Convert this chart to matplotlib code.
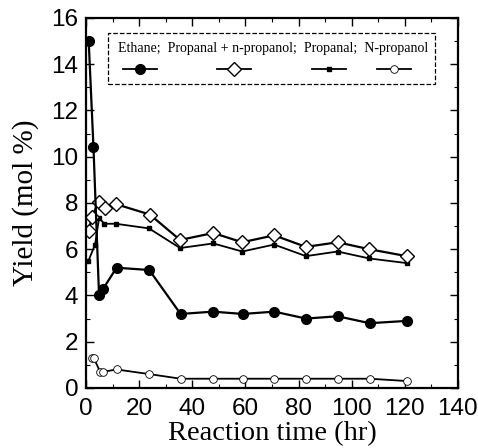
import matplotlib
matplotlib.use("Agg")
import matplotlib.pyplot as plt
from matplotlib.patches import Rectangle
from matplotlib.ticker import MultipleLocator

# reaction times (hr)
time_hr = [1.0, 2.8, 4.9, 6.5, 11.5, 23.8, 35.6, 47.8, 59.0, 70.9, 82.8, 94.7, 106.8, 120.7]
time_sum = [1.1, 2.1, 4.9, 7.1, 11.2, 24.0, 35.4, 47.9, 58.8, 70.8, 82.8, 94.7, 106.6, 120.7]
time_propanal = [0.9, 3.4, 4.9, 6.9, 11.2, 23.7, 35.4, 47.9, 58.8, 70.8, 82.8, 94.7, 106.6, 120.7]
time_npropanol = [2.1, 2.9, 5.3, 6.5, 11.5, 23.8, 35.6, 47.8, 59.0, 70.9, 82.8, 94.7, 106.8, 120.7]

ethane = [15.0, 10.4, 4.0, 4.3, 5.2, 5.1, 3.2, 3.3, 3.2, 3.3, 3.0, 3.1, 2.8, 2.9]
propanal_plus = [6.8, 7.4, 8.05, 7.8, 7.95, 7.5, 6.4, 6.7, 6.3, 6.6, 6.1, 6.3, 6.0, 5.7]
propanal = [5.5, 6.2, 7.35, 7.1, 7.1, 6.9, 6.05, 6.25, 5.9, 6.2, 5.7, 5.9, 5.6, 5.4]
n_propanol = [1.3, 1.3, 0.7, 0.7, 0.8, 0.6, 0.4, 0.4, 0.4, 0.4, 0.4, 0.4, 0.4, 0.3]

legend_names = ["Ethane", "Propanal + n-propanol", "Propanal", "N-propanol"]

sans = "Liberation Sans"
serif = "Liberation Serif"

fig = plt.figure(figsize=(4.78, 4.48), dpi=100)
ax = fig.add_axes([0.18, 0.134, 0.778, 0.826])

styles = [
    dict(marker="o", ms=7, mfc="black", mec="black", lw=1.6),
    dict(marker="D", ms=7, mfc="white", mec="black", mew=1.0, lw=1.6),
    dict(marker="s", ms=3, mfc="black", mec="black", lw=1.3),
    dict(marker="o", ms=5.5, mfc="white", mec="black", mew=0.6, lw=1.3),
]

ax.plot(time_propanal, propanal, color="black", **styles[2])
ax.plot(time_sum, propanal_plus, color="black", **styles[1])
ax.plot(time_hr, ethane, color="black", **styles[0])
ax.plot(time_npropanol, n_propanol, color="black", **styles[3])

ax.set_xlim(0, 140)
ax.set_ylim(0, 16)
ax.xaxis.set_major_locator(MultipleLocator(20))
ax.xaxis.set_minor_locator(MultipleLocator(10))
ax.yaxis.set_major_locator(MultipleLocator(2))
ax.yaxis.set_minor_locator(MultipleLocator(1))
ax.tick_params(which="both", direction="in", top=True, right=True)
ax.tick_params(which="major", length=6, width=1.0, labelsize=17.5)
ax.tick_params(axis="x", which="major", pad=7)
ax.tick_params(axis="y", which="major", pad=5.5)
ax.tick_params(which="minor", length=3, width=0.8)
for lab in ax.get_xticklabels() + ax.get_yticklabels():
    lab.set_fontfamily(sans)
for sp in ax.spines.values():
    sp.set_linewidth(1.6)

ax.set_xlabel("Reaction time (hr)", fontfamily=serif, fontsize=20.5, labelpad=1)
ax.set_ylabel("Yield (mol %)", fontfamily=serif, fontsize=21, labelpad=9)

# hand-made legend: names on one line, keys underneath
ax.add_patch(Rectangle((0.059, 0.822), 0.879, 0.137, transform=ax.transAxes,
                       fill=False, ls="--", lw=0.9, ec="black"))
ax.text(0.086, 0.918, ";  ".join(legend_names), transform=ax.transAxes,
        fontfamily=serif, fontsize=10, va="center", ha="left")
key_x = [0.099, 0.352, 0.608, 0.782]
for x0, st in zip(key_x, styles):
    st = dict(st)
    st["lw"] = 1.3
    ax.plot([x0, x0 + 0.046, x0 + 0.092], [0.862] * 3, color="black",
            transform=ax.transAxes, markevery=[1], clip_on=False, **st)

fig.savefig("out.png", dpi=100)
